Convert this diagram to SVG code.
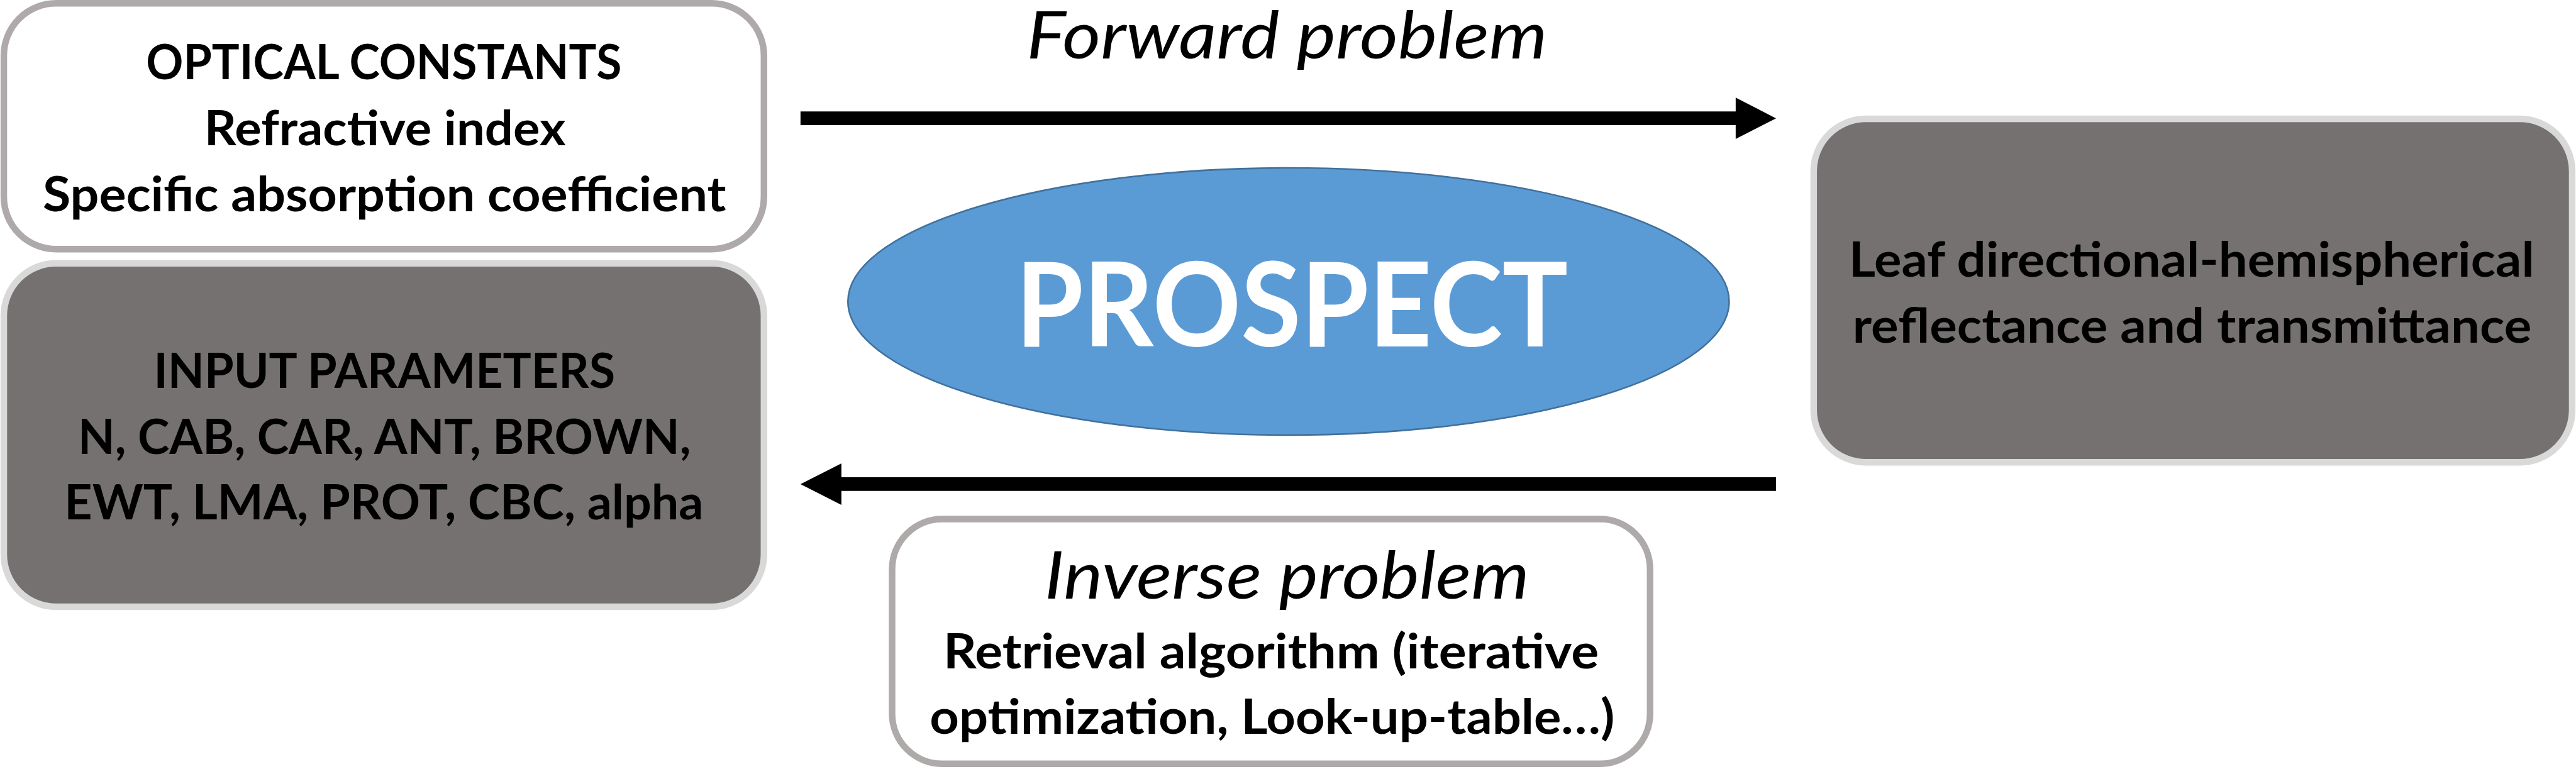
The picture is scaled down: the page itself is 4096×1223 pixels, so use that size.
<svg xmlns="http://www.w3.org/2000/svg" width="4096" height="1223" viewBox="0 0 4096 1223">
<style>
.bx-w{fill:#ffffff;stroke:#aeaaaa;stroke-width:12}
.bx-g{fill:#767171;stroke:#d9d9d9;stroke-width:12}
.t{font-family:Lato,"Open Sans","Liberation Sans",sans-serif;font-weight:700;font-size:89px;fill:#000;text-anchor:middle}
.it{font-family:Lato,"Open Sans","Liberation Sans",sans-serif;font-style:italic;font-weight:400;font-size:122px;fill:#000;text-anchor:middle}
.big{font-family:Lato,"Open Sans","Liberation Sans",sans-serif;font-weight:700;font-size:215px;fill:#fff;text-anchor:middle}
.arr{fill:#000}
</style>
<rect x="0" y="0" width="4096" height="1223" fill="#ffffff"/>
<g transform="scale(0.86706)">
  <g id="optical-constants">
    <rect class="bx-w" x="7" y="6" width="1394" height="451" rx="96" ry="96"/>
    <text class="t" x="704" y="145" textLength="872" lengthAdjust="spacingAndGlyphs">OPTICAL CONSTANTS</text>
    <text class="t" x="706" y="267" textLength="663" lengthAdjust="spacingAndGlyphs">Refractive index</text>
    <text class="t" x="705" y="388" textLength="1253" lengthAdjust="spacingAndGlyphs">Specific absorption coefficient</text>
  </g>
  <g id="input-parameters">
    <rect class="bx-g" x="7" y="483" width="1394" height="630" rx="96" ry="96"/>
    <text class="t" x="705" y="712" textLength="846" lengthAdjust="spacingAndGlyphs">INPUT PARAMETERS</text>
    <text class="t" x="705" y="833" textLength="1124" lengthAdjust="spacingAndGlyphs">N, CAB, CAR, ANT, BROWN,</text>
    <text class="t" x="704" y="953" textLength="1172" lengthAdjust="spacingAndGlyphs">EWT, LMA, PROT, CBC, alpha</text>
  </g>
  <g id="prospect">
    <ellipse cx="2363" cy="553" rx="808" ry="245" fill="#5b9bd5" stroke="#41719c" stroke-width="3"/>
    <text class="big" x="2369" y="635" textLength="1013" lengthAdjust="spacingAndGlyphs">PROSPECT</text>
  </g>
  <g id="leaf-output">
    <rect class="bx-g" x="3326" y="218" width="1391" height="630" rx="96" ry="96"/>
    <text class="t" x="4019" y="507" textLength="1257" lengthAdjust="spacingAndGlyphs">Leaf directional-hemispherical</text>
    <text class="t" x="4020" y="629" textLength="1245" lengthAdjust="spacingAndGlyphs">reflectance and transmittance</text>
  </g>
  <g id="inverse-problem">
    <rect class="bx-w" x="1636" y="952" width="1390" height="449" rx="92" ry="92"/>
    <text class="it" x="2360" y="1098" textLength="889" lengthAdjust="spacingAndGlyphs">Inverse problem</text>
    <text class="t" x="2331" y="1226" textLength="1202" lengthAdjust="spacingAndGlyphs">Retrieval algorithm (iterative</text>
    <text class="t" x="2333" y="1346" textLength="1256" lengthAdjust="spacingAndGlyphs">optimization, Look-up-table…)</text>
  </g>
  <g id="connectors">
    <g id="forward-arrow">
      <polygon class="arr" points="1468,204.5 3183,204.5 3183,179 3257,217 3183,255 3183,229.5 1468,229.5"/>
      <text class="it" x="2360" y="107" textLength="955" lengthAdjust="spacingAndGlyphs">Forward problem</text>
    </g>
    <g id="inverse-arrow">
      <polygon class="arr" points="3257,875.5 1543,875.5 1543,850 1468,888 1543,926 1543,900.5 3257,900.5"/>
    </g>
  </g>
</g>
</svg>
